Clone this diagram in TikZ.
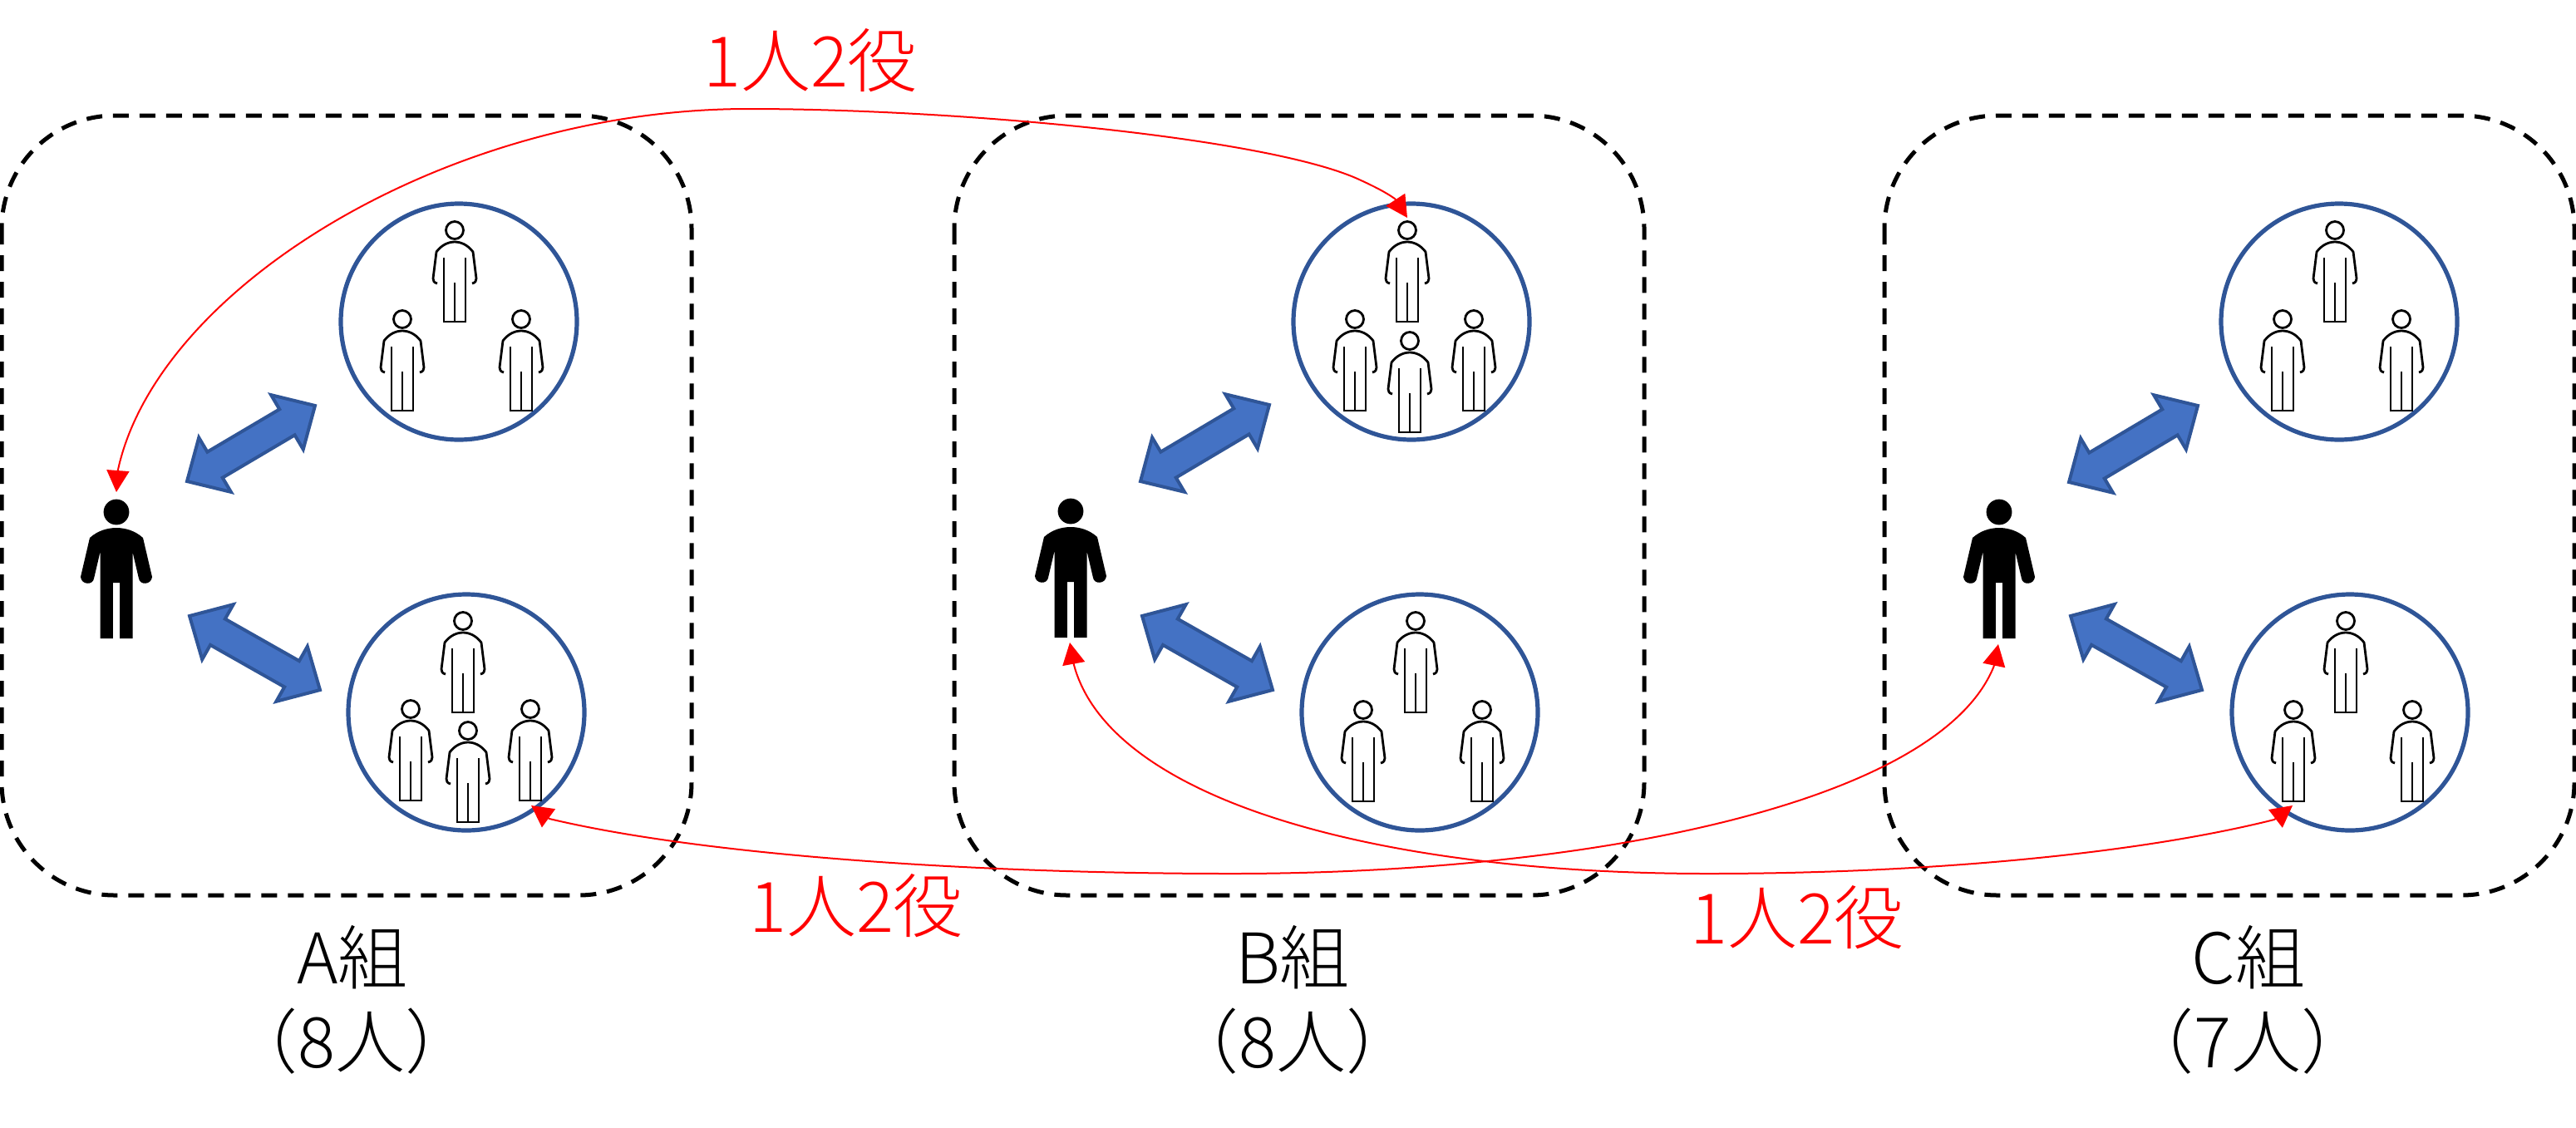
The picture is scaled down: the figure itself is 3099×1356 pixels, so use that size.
\documentclass[tikz,border=0pt]{standalone}
\usepackage{fontspec}
\setmainfont{Noto Sans CJK JP Light}
\usetikzlibrary{calc,arrows.meta}
\definecolor{ringblue}{HTML}{2F5597}
\definecolor{fillblue}{HTML}{4472C4}
\definecolor{redline}{HTML}{FF0000}
\tikzset{
  x=0.5pt,y=-0.5pt,
  groupbox/.style={draw=black,line width=2.5pt,dash pattern=on 9.5pt off 6.5pt,rounded corners=68pt},
  ring/.style={circle,draw=ringblue,line width=2.6pt,minimum size=142pt,inner sep=0pt},
  bigarrow/.style={draw=ringblue,fill=fillblue,line width=2pt,miter limit=10},
  redlink/.style={draw=redline,line width=1pt,{Triangle[length=13pt,width=13.5pt,fill=redline]}-{Triangle[length=13pt,width=13.5pt,fill=redline]}},
  redtext/.style={text=redline,font=\fontsize{42}{50}\selectfont,inner sep=0pt},
  grouptext/.style={font=\fontsize{42}{50}\selectfont,inner sep=0pt,align=center},
  pics/thinperson/.style={code={
    \draw[line width=1.4pt,line cap=butt] (0,-110) circle (10.5);
    \draw[line width=1.4pt,line join=round] (-21,-46) .. controls (-25,-47) and (-26,-49) .. (-26,-52)
      -- (-22,-84) .. controls (-16,-92) and (-8,-96) .. (0,-96) .. controls (8,-96) and (16,-92) .. (22,-84)
      -- (26,-52) .. controls (26,-49) and (25,-47) .. (21,-46);
    \draw[line width=1.4pt,line join=miter] (-13,-77) -- (-13,0) -- (13,0) -- (13,-77);
    \draw[line width=1.4pt] (0,-47) -- (0,0);
  }},
  pics/solidperson/.style={code={
    \fill (0,-152) circle (15.4);
    \fill (-19.5,0) -- (-4.2,0) -- (-4.2,-67) -- (4.2,-67) -- (4.2,0) -- (19.5,0) -- (19.5,-104)
      -- (27,-72) .. controls (28,-64) and (42,-64) .. (43,-74)
      -- (32,-121) .. controls (22,-130) and (10,-133) .. (0,-133) .. controls (-10,-133) and (-22,-130) .. (-32,-121)
      -- (-43,-74) .. controls (-42,-64) and (-28,-64) .. (-27,-72) -- (-19.5,-104) -- cycle;
  }}
}
\newcommand{\twowayarrow}[2]{%
  \draw[bigarrow] (#1)
   -- ($(#1)!19.5pt!(#2)!19pt!90:(#2)$)
   -- ($(#1)!19.5pt!(#2)!9pt!90:(#2)$)
   -- ($(#2)!19.5pt!(#1)!9pt!-90:(#1)$)
   -- ($(#2)!19.5pt!(#1)!19pt!-90:(#1)$)
   -- (#2)
   -- ($(#2)!19.5pt!(#1)!19pt!90:(#1)$)
   -- ($(#2)!19.5pt!(#1)!9pt!90:(#1)$)
   -- ($(#1)!19.5pt!(#2)!9pt!-90:(#2)$)
   -- ($(#1)!19.5pt!(#2)!19pt!-90:(#2)$)
   -- cycle;}
\begin{document}
\begin{tikzpicture}
\useasboundingbox (0,0) rectangle (3099,1356);
% group boxes
\draw[groupbox] (2,139) rectangle (832,1077);
\draw[groupbox] (1148,139) rectangle (1978,1077);
\draw[groupbox] (2267,139) rectangle (3097,1077);
% rings
\node[ring] (a1) at (552,387) {};
\node[ring] (a2) at (561,857) {};
\node[ring] (b1) at (1698,387) {};
\node[ring] (b2) at (1708,857) {};
\node[ring] (c1) at (2814,387) {};
\node[ring] (c2) at (2827,857) {};
% ring members
\foreach \cx/\cy in {552/387,1698/387,1708/857,2814/387,2827/857}{
  \pic at (\cx-5,\cy) {thinperson};
  \pic at (\cx-68,\cy+107) {thinperson};
  \pic at (\cx+75,\cy+107) {thinperson};
}
\pic at (557,857) {thinperson};
\pic at (494,963) {thinperson};
\pic at (638,963) {thinperson};
\pic at (563,989) {thinperson};
\pic at (1696,520) {thinperson};
% leaders
\pic at (140,768) {solidperson};
\pic at (1288,767) {solidperson};
\pic at (2405,768) {solidperson};
% double arrows
\coordinate (u1a) at (225,579); \coordinate (u1b) at (379,488);
\coordinate (l1a) at (228,741); \coordinate (l1b) at (385,830);
\coordinate (u2a) at (1372,579); \coordinate (u2b) at (1527,487);
\coordinate (l2a) at (1374,741); \coordinate (l2b) at (1531,830);
\coordinate (u3a) at (2489,580); \coordinate (u3b) at (2644,488);
\coordinate (l3a) at (2491,741); \coordinate (l3b) at (2649,830);
\twowayarrow{u1a}{u1b}
\twowayarrow{l1a}{l1b}
\twowayarrow{u2a}{u2b}
\twowayarrow{l2a}{l2b}
\twowayarrow{u3a}{u3b}
\twowayarrow{l3a}{l3b}
% red links
\coordinate (leadA) at (140,592);
\coordinate (leadB) at (1287,773);
\coordinate (leadC) at (2404,775);
\coordinate (ringB) at (1693,262);
\coordinate (ringA) at (639,969);
\coordinate (ringC) at (2758,969);
\coordinate (m1) at (900,131);
\coordinate (m2) at (1482,1051);
\coordinate (m3) at (2055,1051);
\draw[redlink] (leadA) -- (142,565) .. controls (190,345) and (540,131) .. (m1)
  .. controls (1150,131) and (1520,165) .. (1633,215)
  .. controls (1655,225) and (1668,232) .. (1678,239) -- (ringB);
\draw[redlink] (ringA) -- (661,985) .. controls (850,1030) and (1180,1051) .. (m2)
  .. controls (1900,1051) and (2330,970) .. (2398.5,802) -- (leadC);
\draw[redlink] (leadB) -- (1292,800) .. controls (1335,960) and (1650,1051) .. (m3)
  .. controls (2300,1051) and (2560,1030) .. (2736,986) -- (ringC);
% labels
\node[redtext] (t1) at (975,73) {1人2役};
\node[redtext] (t2) at (1030,1090) {1人2役};
\node[redtext] (t3) at (2162,1104) {1人2役};
\node[grouptext] (ga) at (424,1152) {A組};
\node[grouptext] (gaa) at (423,1253) {（8人）};
\node[grouptext] (gb) at (1555,1152) {B組};
\node[grouptext] (gbb) at (1555,1253) {（8人）};
\node[grouptext] (gc) at (2705,1152) {C組};
\node[grouptext] (gcc) at (2704,1253) {（7人）};
\end{tikzpicture}
\end{document}
